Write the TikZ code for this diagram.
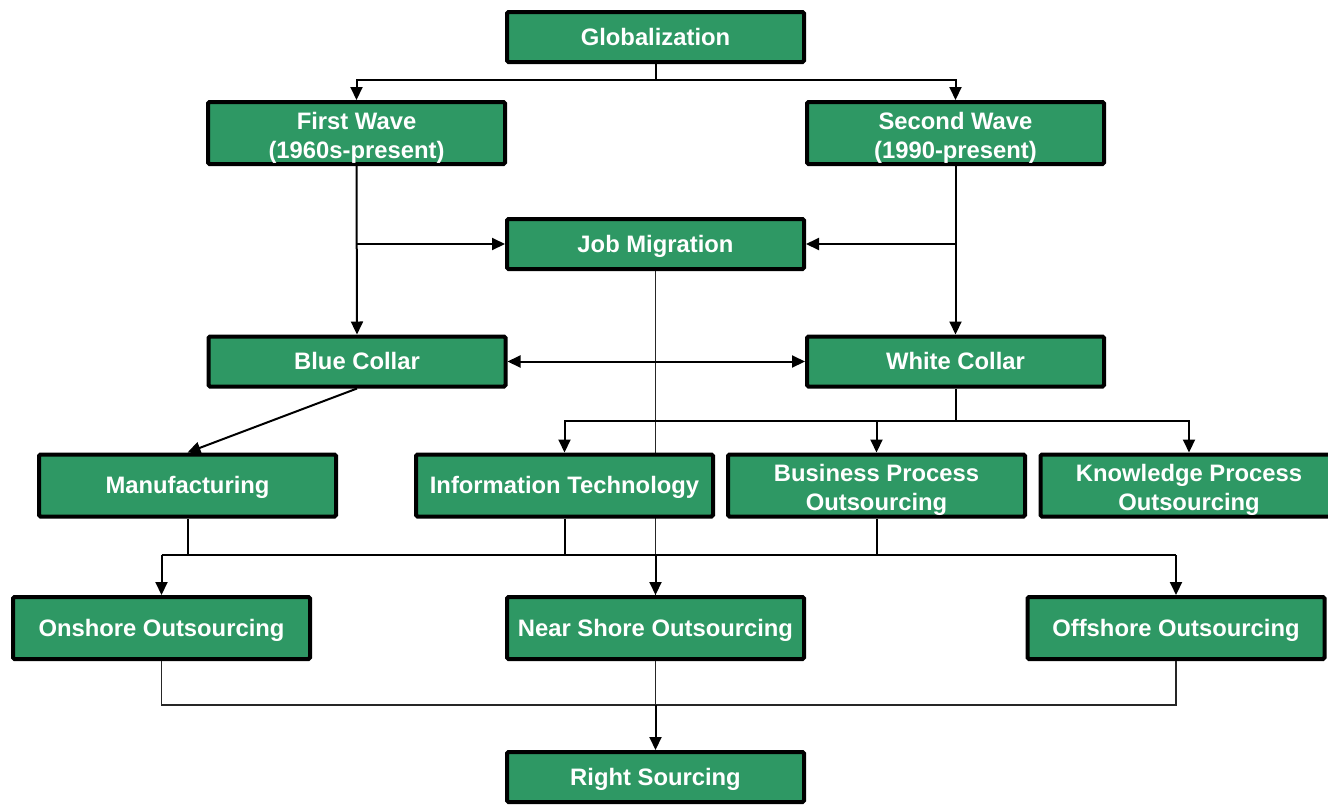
\documentclass[tikz,border=0pt]{standalone}
\usepackage{fontspec}
\setmainfont{Liberation Sans}
\usepackage{tikz}
\usetikzlibrary{arrows.meta,positioning,backgrounds}
\definecolor{boxgreen}{RGB}{46,152,100}
\newcommand{\boxstrut}{\rule{0pt}{26pt}}
\tikzstyle{boxbase} = [rectangle, rounded corners=1.5pt, draw=black, line width=4pt, fill=boxgreen, text=white, font=\bfseries\fontsize{23.8}{29}\selectfont, align=center, minimum width=297pt, minimum height=50pt, inner sep=0pt]
\tikzstyle{box} = [boxbase, text height=16.5pt, text depth=0pt]
\tikzstyle{twobox} = [boxbase, minimum height=62pt]
\tikzstyle{tall} = [minimum height=62pt]
\tikzstyle{link} = [line width=2pt]
\tikzstyle{thinlink} = [line width=1.4pt, draw=black!85]
\tikzstyle{arrow} = [line width=2pt, -{Triangle[length=13pt,width=12pt]}]

\begin{document}
\begin{tikzpicture}[x=1pt,y=-1pt]
\useasboundingbox (0,0) rectangle (1328,804);
% boxes
\node[box] (glob) at (655.5,37) {Globalization};
\node[twobox] (wave1) at (356.5,133) {\boxstrut First Wave\\(1960s-present)};
\node[twobox] (wave2) at (955.5,133) {\boxstrut Second Wave\\(1990-present)};
\node[box] (jobs) at (655.5,244) {Job Migration};
\node[box] (blue) at (357,361.5) {Blue Collar};
\node[box] (white) at (955.5,361.5) {White Collar};
\node[box,tall] (manu) at (187.5,485.5) {Manufacturing};
\node[box,tall] (it) at (564.5,485.5) {Information Technology};
\node[twobox] (bpo) at (876.5,485.5) {\boxstrut Business Process\\Outsourcing};
\node[twobox] (kpo) at (1189,485.5) {\boxstrut Knowledge Process\\Outsourcing};
\node[box,tall] (on) at (161.5,628) {Onshore Outsourcing};
\node[box,tall] (near) at (655.5,628) {Near Shore Outsourcing};
\node[box,tall] (off) at (1176,628) {Offshore Outsourcing};
\node[box] (right) at (655.5,777) {Right Sourcing};

% top part
\draw[link] (glob.south) -- ++(0,16) coordinate (gsplit);
\draw[arrow] (gsplit) -| (wave1.north);
\draw[arrow] (gsplit) -| (wave2.north);
\draw[arrow] (wave1.south) -- (blue.north);
\draw[arrow] (wave2.south) -- (white.north);
\draw[arrow] (wave1.south |- jobs.west) -- (jobs.west);
\draw[arrow] (wave2.south |- jobs.east) -- (jobs.east);
\draw[arrow, {Triangle[length=13pt,width=12pt]}-{Triangle[length=13pt,width=12pt]}] (blue.east) -- (white.west);
\draw[arrow] (blue.south) -- (manu.north);

% white collar split
\draw[link] (white.south) -- ++(0,32) coordinate (wsplit);
\draw[arrow] (wsplit) -| (it.north);
\draw[arrow] (wsplit) -| (bpo.north);
\draw[arrow] (wsplit) -| (kpo.north);

% job migration line goes behind the boxes
\begin{scope}[on background layer]
\draw[thinlink] (jobs.south) -- (near.north);
\end{scope}

% gathering to the three kinds of outsourcing
\coordinate (bus) at (0,555);
\draw[link] (on.north |- bus) -- (off.north |- bus);
\draw[link] (manu.south) -- (manu.south |- bus);
\draw[link] (it.south) -- (it.south |- bus);
\draw[link] (bpo.south) -- (bpo.south |- bus);
\draw[arrow] (on.north |- bus) -- (on.north);
\draw[arrow] (near.north |- bus) -- (near.north);
\draw[arrow] (off.north |- bus) -- (off.north);

% bottom
\coordinate (low) at (0,705);
\draw[thinlink] (on.south) |- (off.south |- low) -- (off.south);
\draw[thinlink] (near.south) -- (near.south |- low);
\draw[arrow] (near.south |- low) -- (right.north);
\end{tikzpicture}
\end{document}
